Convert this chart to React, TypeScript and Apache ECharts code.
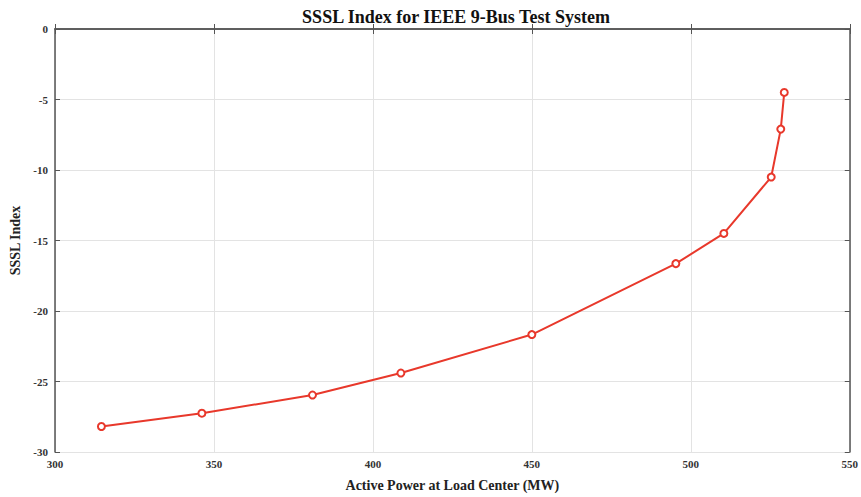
import React, { useEffect, useRef } from "react";
import * as echarts from "echarts";

const powerMW = [314.6, 346.2, 381.0, 408.8, 450.0, 495.3, 510.4, 525.3, 528.3, 529.4];
const ssslIndex = [-28.19, -27.25, -25.96, -24.4, -21.67, -16.64, -14.5, -10.5, -7.1, -4.5];
const titleText = "SSSL Index for IEEE 9-Bus Test System";
const xName = "Active Power at Load Center (MW)";
const yName = "SSSL Index";

export default function App() {
  const ref = useRef<HTMLDivElement>(null);
  useEffect(() => {
    if (!ref.current) return;
    const chart = echarts.init(ref.current, undefined, { renderer: "svg" });
    const serif = "Liberation Serif, Times New Roman, serif";
    const labelStyle = { fontFamily: serif, fontSize: 11, color: "#333", fontWeight: "bold" as const };
    const frame = { show: true, lineStyle: { color: "#555", width: 1.5 } };
    const data = powerMW.map((x, i) => [x, ssslIndex[i]]);
    chart.setOption({
      animation: false,
      backgroundColor: "#fff",
      title: {
        text: titleText,
        left: 451,
        textAlign: "center",
        top: 3,
        textStyle: { fontFamily: serif, fontSize: 18, fontWeight: "bold", color: "#111" },
      },
      grid: { left: 51, right: 10, top: 29, bottom: 42, containLabel: false },
      xAxis: [
        {
          type: "value",
          min: 300,
          max: 550,
          interval: 50,
          position: "bottom",
          axisLine: frame,
          axisTick: { show: true, inside: true, length: 5, lineStyle: { color: "#555" } },
          axisLabel: { ...labelStyle, margin: 6 },
          splitLine: { show: true, lineStyle: { color: "#e3e3e3", width: 1 } },
          name: xName,
          nameLocation: "middle",
          nameGap: 26,
          nameTextStyle: { fontFamily: serif, fontSize: 14, fontWeight: "bold", color: "#222" },
        },
        {
          type: "value",
          min: 300,
          max: 550,
          interval: 50,
          position: "top",
          axisLine: frame,
          axisTick: { show: true, inside: true, length: 5, lineStyle: { color: "#555" } },
          axisLabel: { show: false },
          splitLine: { show: false },
        },
      ],
      yAxis: [
        {
          type: "value",
          min: -30,
          max: 0,
          interval: 5,
          position: "left",
          axisLine: frame,
          axisTick: { show: true, inside: true, length: 5, lineStyle: { color: "#555" } },
          axisLabel: { ...labelStyle, margin: 7 },
          splitLine: { show: true, lineStyle: { color: "#e3e3e3", width: 1 } },
          name: yName,
          nameLocation: "middle",
          nameGap: 33,
          nameTextStyle: { fontFamily: serif, fontSize: 14, fontWeight: "bold", color: "#222" },
        },
        {
          type: "value",
          min: -30,
          max: 0,
          interval: 5,
          position: "right",
          axisLine: frame,
          axisTick: { show: true, inside: true, length: 5, lineStyle: { color: "#555" } },
          axisLabel: { show: false },
          splitLine: { show: false },
        },
      ],
      series: [
        {
          type: "line",
          data,
          xAxisIndex: 0,
          yAxisIndex: 0,
          symbol: "emptyCircle",
          symbolSize: 7,
          lineStyle: { color: "#e8382b", width: 2 },
          itemStyle: { color: "#e8382b", borderColor: "#e8382b", borderWidth: 1.8 },
        },
      ],
    });
    return () => chart.dispose();
  }, []);
  return (
    <div
      ref={ref}
      style={{ position: "fixed", left: 0, top: 0, width: 861, height: 497, background: "#fff" }}
    />
  );
}
